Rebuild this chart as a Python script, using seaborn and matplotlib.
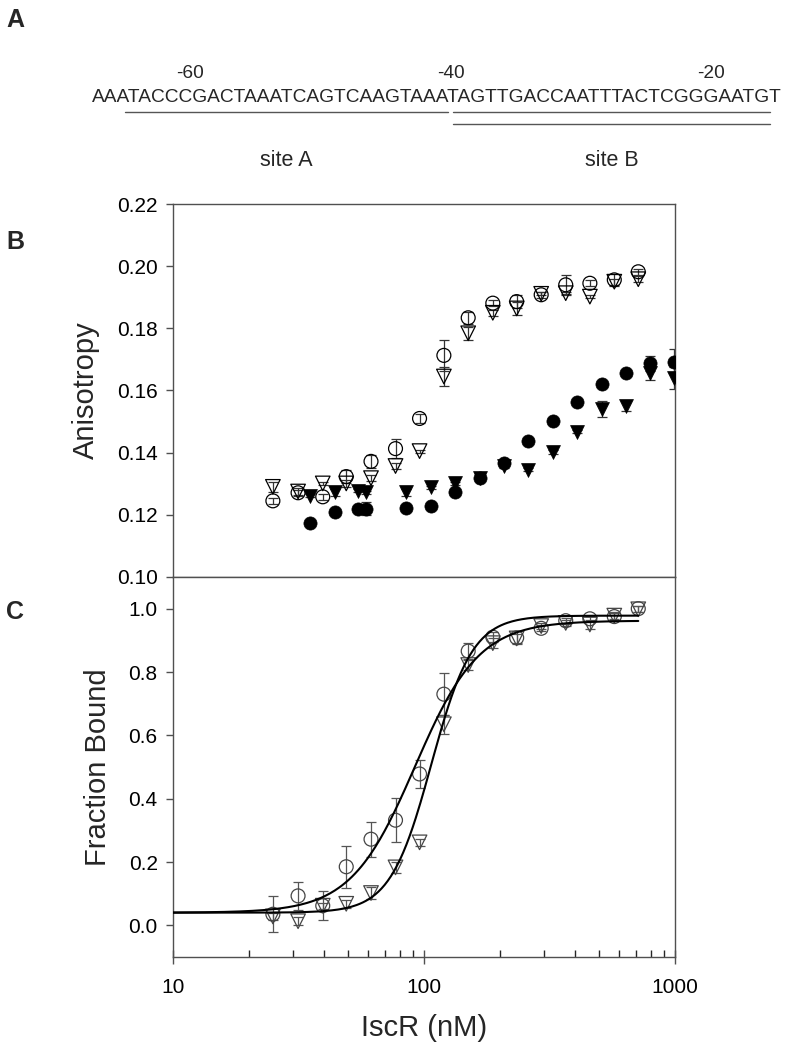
import numpy as np
import pandas as pd
import matplotlib
matplotlib.use("Agg")
import matplotlib.pyplot as plt
import seaborn as sns

sns.set_theme(style="ticks")
plt.rcParams['font.family'] = ['Liberation Sans', 'DejaVu Sans']

# Panel A: promoter sequence
sequence = "AAATACCCGACTAAATCAGTCAAGTAAATAGTTGACCAATTTACTCGGGAATGT"
seq_start = -67
position_marks = [-60, -40, -20]
site_names = ["site A", "site B"]
site_a_span = [-65.0, -40.2]
site_b_span = [-39.8, -15.5]

# Panel B: anisotropy, open symbols
conc_open = [25, 31.5, 39.5, 49, 61.5, 77, 96, 120, 150, 188, 234, 293, 367, 458, 573, 714]
aniso_circ_open = [0.1245, 0.1271, 0.1258, 0.1323, 0.1372, 0.1413, 0.1510, 0.1713, 0.1834, 0.1881,
                   0.1886, 0.1908, 0.1940, 0.1945, 0.1956, 0.1982]
aniso_circ_open_err = [0.001, 0.001, 0.001, 0.002, 0.002, 0.003, 0.0015, 0.005, 0.002, 0.001,
                       0.002, 0.001, 0.003, 0.001, 0.002, 0.001]
aniso_tri_open = [0.1290, 0.1275, 0.1301, 0.1301, 0.1318, 0.1357, 0.1405, 0.1645, 0.1784, 0.1850,
                  0.1864, 0.1911, 0.1913, 0.1902, 0.1950, 0.1958]
aniso_tri_open_err = [0.0015, 0.001, 0.0005, 0.001, 0.001, 0.001, 0.0005, 0.003, 0.002, 0.001,
                      0.002, 0.0005, 0.0005, 0.0005, 0.001, 0.001]

# Panel B: anisotropy, filled symbols
conc_filled = [35, 44, 54.5, 59, 85, 106.5, 133, 167, 209, 260, 326, 408, 510, 638, 795, 993]
aniso_circ_filled = [0.1175, 0.1208, 0.1220, 0.1220, 0.1222, 0.1228, 0.1272, 0.1320, 0.1368, 0.1438,
                     0.1503, 0.1563, 0.1622, 0.1655, 0.1687, 0.1692]
aniso_circ_filled_err = [0.0005, 0.0005, 0.0005, 0.002, 0.0005, 0.0005, 0.0005, 0.0005, 0.0005, 0.0005,
                         0.0005, 0.0005, 0.0005, 0.0005, 0.0025, 0.004]
aniso_tri_filled = [0.1262, 0.1272, 0.1278, 0.1272, 0.1272, 0.1288, 0.1302, 0.1318, 0.1357, 0.1345,
                    0.1402, 0.1467, 0.1540, 0.1550, 0.1655, 0.1640]
aniso_tri_filled_err = [0.0005, 0.001, 0.0005, 0.0005, 0.001, 0.0005, 0.0005, 0.0005, 0.0005, 0.0005,
                        0.0005, 0.0005, 0.0025, 0.0015, 0.002, 0.0035]

# Panel C: fraction bound
frac_circ = [0.035, 0.093, 0.062, 0.185, 0.272, 0.332, 0.478, 0.730, 0.866, 0.910,
             0.908, 0.938, 0.962, 0.968, 0.975, 1.000]
frac_circ_err = [0.057, 0.045, 0.045, 0.067, 0.055, 0.070, 0.045, 0.067, 0.025, 0.015,
                 0.020, 0.010, 0.010, 0.010, 0.010, 0.010]
frac_tri = [0.028, 0.013, 0.062, 0.068, 0.102, 0.183, 0.262, 0.635, 0.822, 0.891,
            0.906, 0.945, 0.955, 0.950, 0.978, 0.998]
frac_tri_err = [0.010, 0.012, 0.010, 0.012, 0.020, 0.018, 0.012, 0.030, 0.015, 0.015,
                0.015, 0.010, 0.010, 0.015, 0.010, 0.010]

# Hill fit parameters (bottom, top, K, n)
fit_circ = [0.040, 0.962, 92.0, 3.4]
fit_tri = [0.040, 0.978, 107.0, 5.3]

W, H = 799, 1050
fig = plt.figure(figsize=(W / 100, H / 100), dpi=100)

def frac_box(left, top, right, bottom):
    return [left / W, 1 - bottom / H, (right - left) / W, (bottom - top) / H]

axis_grey = '#505050'

# ---- panel A ----
ax_a = fig.add_axes([0, 1 - 190 / H, 1, 190 / H])
px_per_nt = 13.04
x_left = seq_start - 0.5 - 92 / px_per_nt
ax_a.set_xlim(x_left, x_left + W / px_per_nt)
ax_a.set_ylim(190, 0)
ax_a.axis('off')
ax_a.text(seq_start - 0.5, 98, sequence, fontsize=13.8, ha='left', va='center')
for p in position_marks:
    ax_a.text(p, 74, str(p), fontsize=13.8, ha='center', va='center')
ax_a.plot(site_a_span, [112, 112], color='#555555', lw=1.0)
ax_a.plot(site_b_span, [112, 112], color='#555555', lw=1.0)
ax_a.plot(site_b_span, [124, 124], color='#555555', lw=1.0)
ax_a.text(np.mean(site_a_span), 160, site_names[0], fontsize=15.5, ha='center', va='center')
ax_a.text(np.mean(site_b_span), 160, site_names[1], fontsize=15.5, ha='center', va='center')

# ---- panel B ----
ax_b = fig.add_axes(frac_box(173, 204, 675, 577))
df_open = pd.DataFrame({'conc': conc_open, 'circ': aniso_circ_open, 'tri': aniso_tri_open,
                        'circ_err': aniso_circ_open_err, 'tri_err': aniso_tri_open_err})
df_filled = pd.DataFrame({'conc': conc_filled, 'circ': aniso_circ_filled, 'tri': aniso_tri_filled,
                          'circ_err': aniso_circ_filled_err, 'tri_err': aniso_tri_filled_err})

for df in (df_open, df_filled):
    for col in ('circ', 'tri'):
        ax_b.errorbar(df['conc'], df[col], yerr=df[col + '_err'], fmt='none',
                      ecolor='#333333', elinewidth=0.9, capsize=3.5, capthick=0.9, zorder=2)

sns.scatterplot(data=df_open, x='conc', y='circ', marker='o', s=100, facecolor='none',
                edgecolor='black', linewidth=0.9, ax=ax_b, zorder=3)
sns.scatterplot(data=df_open, x='conc', y='tri', marker='v', s=110, facecolor='none',
                edgecolor='black', linewidth=0.9, ax=ax_b, zorder=3)
sns.scatterplot(data=df_filled, x='conc', y='circ', marker='o', s=90, color='black',
                edgecolor='black', linewidth=0.5, ax=ax_b, zorder=3)
sns.scatterplot(data=df_filled, x='conc', y='tri', marker='v', s=100, color='black',
                edgecolor='black', linewidth=0.5, ax=ax_b, zorder=3)

ax_b.set_xscale('log')
ax_b.set_xlim(10, 1000)
ax_b.set_ylim(0.10, 0.22)
ax_b.set_yticks(np.arange(0.10, 0.2201, 0.02))
ax_b.set_yticklabels([f'{v:.2f}' for v in np.arange(0.10, 0.2201, 0.02)])
ax_b.set_xticks([])
ax_b.minorticks_off()
ax_b.set_xlabel('')
ax_b.set_ylabel('Anisotropy', fontsize=21, labelpad=12)

# ---- panel C ----
ax_c = fig.add_axes(frac_box(173, 577, 675, 957))
df_c = pd.DataFrame({'conc': conc_open, 'circ': frac_circ, 'tri': frac_tri,
                     'circ_err': frac_circ_err, 'tri_err': frac_tri_err})

curve_x = np.logspace(1, np.log10(conc_open[-1]), 300)
def hill(x, p):
    bottom, top, k, n = p
    return bottom + (top - bottom) * x ** n / (k ** n + x ** n)
df_fit = pd.DataFrame({'conc': np.concatenate([curve_x, curve_x]),
                       'frac': np.concatenate([hill(curve_x, fit_circ), hill(curve_x, fit_tri)]),
                       'fit': ['circ'] * len(curve_x) + ['tri'] * len(curve_x)})
sns.lineplot(data=df_fit, x='conc', y='frac', units='fit', estimator=None, color='black',
             lw=1.5, ax=ax_c, zorder=4)

for col in ('circ', 'tri'):
    ax_c.errorbar(df_c['conc'], df_c[col], yerr=df_c[col + '_err'], fmt='none',
                  ecolor='#555555', elinewidth=0.9, capsize=3.5, capthick=0.9, zorder=2)
sns.scatterplot(data=df_c, x='conc', y='circ', marker='o', s=100, facecolor='none',
                edgecolor='#444444', linewidth=0.9, ax=ax_c, zorder=3)
sns.scatterplot(data=df_c, x='conc', y='tri', marker='v', s=110, facecolor='none',
                edgecolor='#444444', linewidth=0.9, ax=ax_c, zorder=3)

ax_c.set_xscale('log')
ax_c.set_xlim(10, 1000)
ax_c.set_ylim(-0.1, 1.1)
ax_c.set_yticks(np.arange(0, 1.01, 0.2))
ax_c.set_yticklabels([f'{v:.1f}' for v in np.arange(0, 1.01, 0.2)])
ax_c.set_xticks([10, 100, 1000])
ax_c.set_xticklabels(['10', '100', '1000'])
ax_c.set_xlabel('IscR (nM)', fontsize=21, labelpad=12)
ax_c.set_ylabel('Fraction Bound', fontsize=21, labelpad=12)
ax_c.tick_params(axis='x', which='major', direction='inout', length=10, pad=10)
ax_c.tick_params(axis='x', which='minor', direction='in', length=5)

for ax in (ax_b, ax_c):
    for sp in ax.spines.values():
        sp.set_visible(True)
        sp.set_color(axis_grey)
        sp.set_linewidth(1.0)
    ax.tick_params(axis='both', colors=axis_grey, labelcolor='black', labelsize=15, width=1.0)
    ax.tick_params(axis='y', direction='out', length=5, pad=6)

for letter, ypos in (('A', 20), ('B', 242), ('C', 612)):
    fig.text(15 / W, 1 - ypos / H, letter, fontsize=18, fontweight='bold', ha='center', va='center')

fig.savefig('out.png', dpi=100)
